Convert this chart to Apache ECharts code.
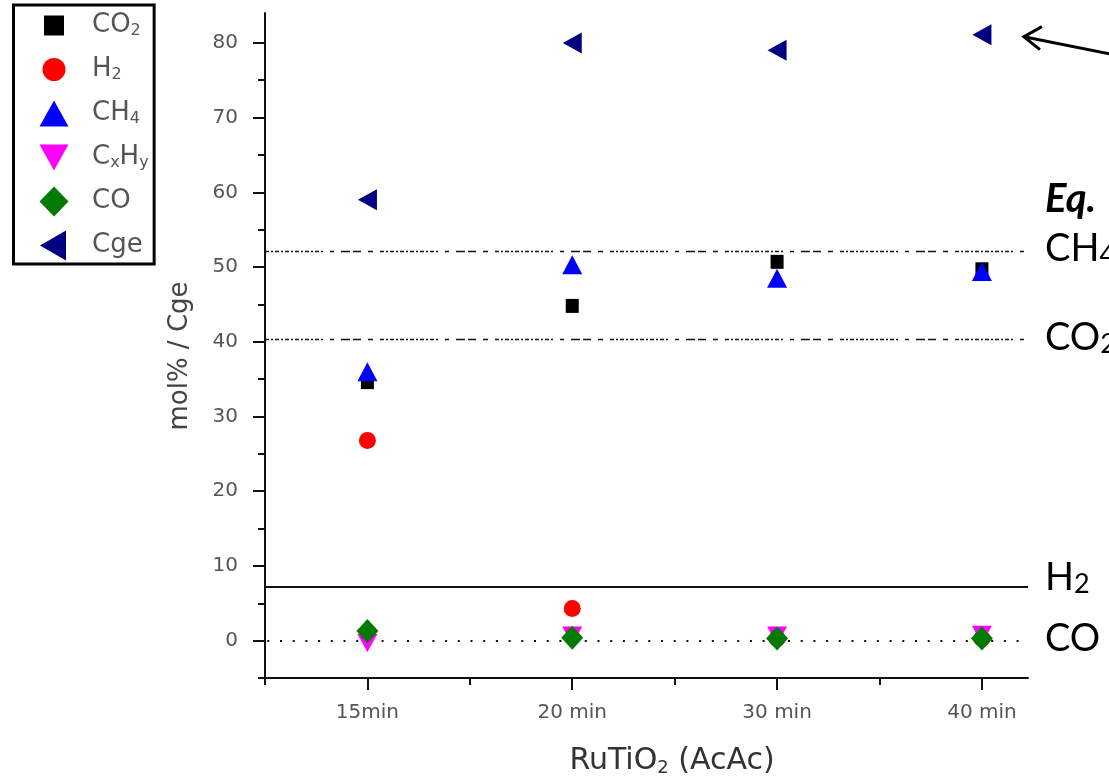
<!DOCTYPE html>
<html>
<head>
<meta charset="utf-8">
<script src="https://cdn.jsdelivr.net/npm/echarts@6/dist/echarts.min.js"></script>
<style>
  html, body { margin: 0; padding: 0; background: #fff; }
  #chart { width: 1109px; height: 782px; }
</style>
</head>
<body>
<div id="chart"></div>
<script>
// ---- data ----
const categories = ['15min', '20 min', '30 min', '40 min'];
const seriesNames = ['CO2', 'H2', 'CH4', 'CxHy', 'CO', 'Cge'];
const co2  = [34.6, 44.8, 50.7, 49.7];
const h2   = [26.8, 4.3, 0.3, 0.3];
const ch4  = [36.0, 50.3, 48.5, 49.4];
const cxhy = [-0.3, 0.7, 0.7, 0.8];
const co   = [1.3, 0.4, 0.3, 0.3];
const cge  = [59.0, 80.0, 79.0, 81.1];
const yTickLabels = [0, 10, 20, 30, 40, 50, 60, 70, 80];
const yMinorTicks = [-5, 5, 15, 25, 35, 45, 55, 65, 75];
const xMajorTicks = [1, 2, 3, 4];
const xMinorTicks = [0.5, 1.5, 2.5, 3.5];
const eqNames  = ['CH4', 'CO2', 'H2', 'CO'];
const eqValues = [52.1, 40.3, 7.2, 0];

// ---- rich-text (subscript) helpers ----
const richName = {
  'CO2': '{n|CO}{s|2}', 'H2': '{n|H}{s|2}', 'CH4': '{n|CH}{s|4}',
  'CxHy': '{n|C}{s|x}{n|H}{s|y}', 'CO': '{n|CO}', 'Cge': '{n|Cge}'
};

const chart = echarts.init(document.getElementById('chart'), null, { renderer: 'canvas' });

const toPts = arr => arr.map((v, i) => [i + 1, v]);

const dashPattern = [4,2,2,2, 4,2,2,2, 4,2,2,2, 4,2,2,2, 4,2,2,2, 4,2,2,7, 4,7, 9,3, 8,7, 5,7];
const eqStyles = {
  'CH4': { type: dashPattern, width: 1.4, color: '#111' },
  'CO2': { type: dashPattern, width: 1.4, color: '#111' },
  'H2':  { type: 'solid', width: 2, color: '#111' },
  'CO':  { type: [2, 10.7], width: 2, color: '#111', dashOffset: -15 }
};
const eqLabelPad = { 'CH4': [0,0,6,0], 'CO2': [0,0,4,0], 'H2': [0,0,18,0], 'CO': [0,0,4,0] };

const symbolDefs = {
  'CO2':  { symbol: 'rect', size: [13, 14], rot: 0, color: '#000000',
            icon: 'path://M0,0 M30,30 M5,5 L25,5 L25,25 L5,25 Z' },
  'H2':   { symbol: 'circle', size: 17, rot: 0, color: '#ff0000',
            icon: 'path://M0,0 M30,30 M3.5,15 A11.5,11.5 0 1,0 26.5,15 A11.5,11.5 0 1,0 3.5,15 Z' },
  'CH4':  { symbol: 'triangle', size: [20, 19], rot: 0, color: '#0000ff',
            icon: 'path://M0,0 M30,30 M15,2 L29.5,28 L0.5,28 Z' },
  'CxHy': { symbol: 'triangle', size: [20, 18], rot: 180, color: '#ff00ff',
            icon: 'path://M0,0 M30,30 M0.5,2 L29.5,2 L15,28 Z' },
  'CO':   { symbol: 'diamond', size: [22, 24], rot: 0, color: '#007a00',
            icon: 'path://M0,0 M30,30 M15,0 L29.5,15 L15,30 L0.5,15 Z' },
  'Cge':  { symbol: 'triangle', size: [21, 19], rot: 90, color: '#000080',
            icon: 'path://M0,0 M30,30 M27,0 L27,30 L1,15 Z' }
};
const seriesValues = [co2, h2, ch4, cxhy, co, cge];

const series = seriesNames.map((name, k) => ({
  name: name,
  type: 'scatter',
  xAxisIndex: 0, yAxisIndex: 0,
  symbol: symbolDefs[name].symbol,
  symbolSize: symbolDefs[name].size,
  symbolRotate: symbolDefs[name].rot,
  itemStyle: { color: symbolDefs[name].color, opacity: 1 },
  data: toPts(seriesValues[k]),
  z: 3 + k
}));

series.unshift({
  name: 'Eq',
  type: 'scatter',
  data: [],
  xAxisIndex: 0, yAxisIndex: 0,
  z: 2,
  markLine: {
    silent: true,
    symbol: 'none',
    animation: false,
    data: eqNames.map((n, i) => ({
      yAxis: eqValues[i],
      lineStyle: eqStyles[n],
      label: {
        show: true,
        position: 'end',
        distance: 17,
        formatter: richName[n] || n,
        color: '#000',
        padding: eqLabelPad[n],
        rich: {
          n: { fontFamily: 'Lato', fontSize: 38, color: '#000', lineHeight: 40 },
          s: { fontFamily: 'Lato', fontSize: 27, color: '#000', lineHeight: 14, verticalAlign: 'bottom' }
        }
      }
    }))
  }
});

const option = {
  animation: false,
  backgroundColor: '#ffffff',
  grid: { left: 265, right: 81, top: 13, bottom: 104, containLabel: false },
  legend: {
    data: seriesNames.map(n => ({
      name: n,
      icon: symbolDefs[n].icon,
      itemStyle: { color: symbolDefs[n].color }
    })),
    orient: 'vertical',
    left: 13.5,
    top: 5,
    itemWidth: 30,
    itemHeight: 30,
    itemGap: 14,
    padding: [5.5, 5.5, 3.5, 25.5],
    borderColor: '#000',
    borderWidth: 3,
    selectedMode: false,
    symbolKeepAspect: true,
    formatter: name => richName[name] || name,
    textStyle: {
      color: '#555',
      fontFamily: 'DejaVu Sans',
      fontSize: 26,
      padding: [0, 0, 0, 18],
      rich: {
        n: { fontFamily: 'DejaVu Sans', fontSize: 26, color: '#555', lineHeight: 26 },
        s: { fontFamily: 'DejaVu Sans', fontSize: 16, color: '#555', lineHeight: 1, verticalAlign: 'bottom' }
      }
    }
  },
  xAxis: [
    {
      type: 'value', min: 0.5, max: 4.225, position: 'bottom',
      name: '{n|RuTiO}{s|2}{n| (AcAc)}',
      nameLocation: 'middle', nameGap: 67,
      nameTextStyle: {
        padding: [0, 0, 0, 51],
        rich: {
          n: { fontFamily: 'DejaVu Sans', fontSize: 30, color: '#333', lineHeight: 32 },
          s: { fontFamily: 'DejaVu Sans', fontSize: 18, color: '#333', lineHeight: 6, verticalAlign: 'bottom' }
        }
      },
      axisLine: { show: true, onZero: false, lineStyle: { color: '#111', width: 2 } },
      axisTick: { show: true, customValues: xMajorTicks, length: 12, inside: false, lineStyle: { color: '#111', width: 2 } },
      axisLabel: {
        show: true, customValues: xMajorTicks, margin: 25,
        formatter: v => categories[Math.round(v) - 1] || '',
        fontFamily: 'DejaVu Sans', fontSize: 20, color: '#555'
      },
      splitLine: { show: false }
    },
    {
      type: 'value', min: 0.5, max: 4.225, position: 'bottom', gridIndex: 0,
      axisLine: { show: false, onZero: false },
      axisTick: { show: true, customValues: xMinorTicks, length: 7, lineStyle: { color: '#111', width: 2 } },
      axisLabel: { show: false },
      splitLine: { show: false }
    }
  ],
  yAxis: [
    {
      type: 'value', min: -5, max: 84, position: 'left',
      name: 'mol% / Cge',
      nameLocation: 'middle', nameGap: 72,
      nameTextStyle: { fontFamily: 'DejaVu Sans', fontSize: 26, color: '#444', padding: [0, 21, 0, 0] },
      axisLine: { show: true, onZero: false, lineStyle: { color: '#111', width: 2 } },
      axisTick: { show: true, customValues: yTickLabels, length: 12, lineStyle: { color: '#111', width: 2 } },
      axisLabel: {
        show: true, customValues: yTickLabels, margin: 27,
        fontFamily: 'DejaVu Sans', fontSize: 20, color: '#555'
      },
      splitLine: { show: false }
    },
    {
      type: 'value', min: -5, max: 84, position: 'left', gridIndex: 0,
      axisLine: { show: false, onZero: false },
      axisTick: { show: true, customValues: yMinorTicks, length: 7, lineStyle: { color: '#111', width: 2 } },
      axisLabel: { show: false },
      splitLine: { show: false }
    }
  ],
  series: series
};

chart.setOption(option);

// annotations: "Eq." heading and the arrow pointing at the last Cge point
const lastIdx = cge.length - 1;
const tip = chart.convertToPixel({ xAxisIndex: 0, yAxisIndex: 0 }, [lastIdx + 1, cge[lastIdx]]);
const eqPos = chart.convertToPixel({ xAxisIndex: 0, yAxisIndex: 0 }, [4.225, eqValues[0]]);
const tx = tip[0] + 42, ty = tip[1] + 2;
chart.setOption({
  graphic: [
    {
      type: 'text',
      x: eqPos[0] + 17, y: eqPos[1] - 52,
      style: {
        text: 'Eq.', fontFamily: 'Lato', fontSize: 40, fontWeight: 'bold', fontStyle: 'italic',
        fill: '#000', verticalAlign: 'middle', align: 'left'
      },
      z: 10
    },
    {
      type: 'polyline',
      shape: { points: [[tx, ty], [tx + 90, ty + 18]] },
      style: { stroke: '#000', lineWidth: 3, fill: null },
      z: 10
    },
    {
      type: 'polyline',
      shape: { points: [[tx + 18, ty - 10], [tx, ty], [tx + 16, ty + 13]] },
      style: { stroke: '#000', lineWidth: 3, fill: null },
      z: 10
    }
  ]
});
</script>
</body>
</html>
